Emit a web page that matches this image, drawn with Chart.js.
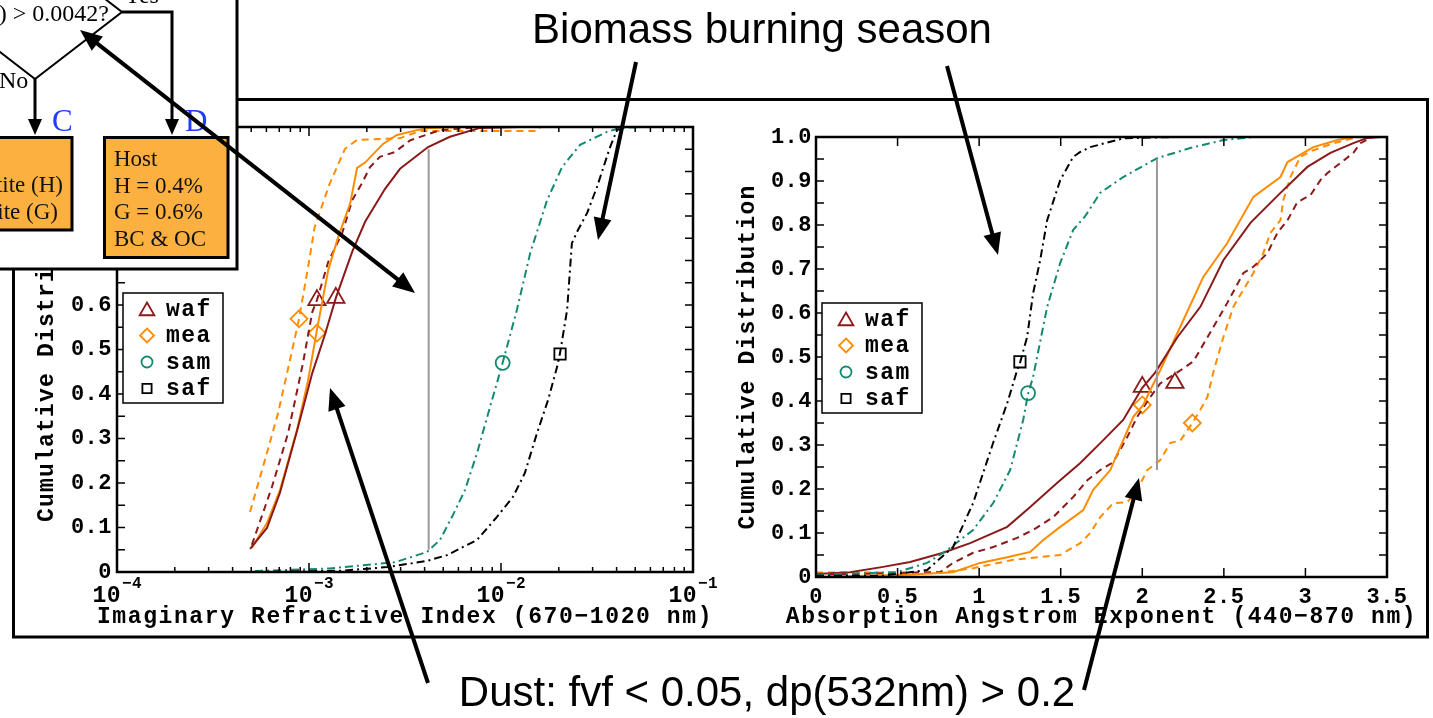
<!DOCTYPE html>
<html>
<head>
<meta charset="utf-8">
<script src="https://cdn.jsdelivr.net/npm/chart.js@4.4.0/dist/chart.umd.min.js"></script>
<style>
html, body { margin:0; padding:0; background:#fff; }
#page { position:relative; width:1433px; height:718px; overflow:hidden; background:#fff; }
#left { position:absolute; left:0; top:0; }
#right { position:absolute; left:720px; top:0; }
#overlay { position:absolute; left:0; top:0; pointer-events:none; }
</style>
</head>
<body>
<div id="page">
<canvas id="left" width="720" height="660"></canvas>
<canvas id="right" width="713" height="660"></canvas>
<canvas id="overlay" width="1433" height="718"></canvas>
</div>
<script>
// ---- data: left panel, imaginary refractive index (log x) ----
const leftWafSolidX = [4.93e-4, 6.04e-4, 7.06e-4, 8.77e-4, 1.04e-3, 1.21e-3, 1.38e-3, 1.68e-3, 1.96e-3, 2.49e-3, 2.98e-3, 4.17e-3, 5.42e-3, 7.78e-3, 1.26e-2, 1e-1];
const leftWafSolidY = [0.052, 0.099, 0.178, 0.326, 0.447, 0.533, 0.616, 0.72, 0.787, 0.861, 0.906, 0.955, 0.978, 0.998, 1.0, 1.0];
const leftWafDashX = [5.04e-4, 6.41e-4, 7.78e-4, 9.31e-4, 1.04e-3, 1.10e-3, 1.26e-3, 1.49e-3, 1.68e-3, 1.89e-3, 2.08e-3, 2.34e-3, 2.81e-3, 3.36e-3, 4.81e-3, 7.78e-3, 1e-1];
const leftWafDashY = [0.061, 0.191, 0.312, 0.47, 0.584, 0.611, 0.697, 0.762, 0.836, 0.874, 0.91, 0.933, 0.944, 0.97, 0.993, 1.0, 1.0];
const leftMeaSolidX = [5.04e-4, 6.04e-4, 7.06e-4, 8.66e-4, 9.89e-4, 1.10e-3, 1.26e-3, 1.42e-3, 1.64e-3, 1.78e-3, 1.96e-3, 2.43e-3, 2.87e-3, 3.65e-3, 4.27e-3, 6.11e-3, 1e-1];
const leftMeaSolidY = [0.054, 0.110, 0.184, 0.319, 0.431, 0.544, 0.679, 0.753, 0.829, 0.908, 0.92, 0.962, 0.982, 0.993, 0.998, 1.0, 1.0];
const leftMeaDashX = [4.93e-4, 5.90e-4, 6.90e-4, 7.96e-4, 8.87e-4, 9.89e-4, 1.07e-3, 1.28e-3, 1.54e-3, 1.78e-3, 2.98e-3, 3.78e-3, 1.54e-2, 1.60e-2, 1e-1];
const leftMeaDashY = [0.135, 0.252, 0.357, 0.476, 0.569, 0.685, 0.775, 0.872, 0.951, 0.971, 0.975, 0.991, 0.991, 1.0, 1.0];
const leftSamX = [5.24e-4, 1.28e-3, 2.81e-3, 4.12e-3, 4.81e-3, 5.56e-3, 6.49e-3, 7.50e-3, 8.77e-3, 1.02e-2, 1.21e-2, 1.42e-2, 1.74e-2, 2.08e-2, 2.58e-2, 3.56e-2, 4.17e-2, 5.30e-2, 1e-1];
const leftSamY = [0.002, 0.008, 0.022, 0.045, 0.072, 0.124, 0.184, 0.267, 0.371, 0.47, 0.589, 0.717, 0.836, 0.91, 0.96, 0.989, 0.998, 1.0, 1.0];
const leftSafX = [5.24e-4, 1.5e-3, 2.55e-3, 4.12e-3, 5.24e-3, 7.50e-3, 9.53e-3, 1.155e-2, 1.33e-2, 1.54e-2, 1.76e-2, 1.96e-2, 2.03e-2, 2.21e-2, 2.34e-2, 2.52e-2, 2.81e-2, 3.16e-2, 3.70e-2, 4.02e-2, 4.53e-2, 1e-1];
const leftSafY = [0.0, 0.003, 0.011, 0.025, 0.038, 0.072, 0.124, 0.169, 0.222, 0.312, 0.387, 0.461, 0.492, 0.589, 0.739, 0.769, 0.807, 0.865, 0.955, 0.993, 1.0, 1.0];
const leftMarkWafX = [1.10e-3, 1.38e-3], leftMarkWafY = [0.611, 0.616];
const leftMarkMeaX = [8.87e-4, 1.10e-3], leftMarkMeaY = [0.569, 0.537];
const leftMarkSamX = [1.02e-2], leftMarkSamY = [0.47];
const leftMarkSafX = [2.03e-2], leftMarkSafY = [0.49];
const leftThreshX = [0.0042, 0.0042], leftThreshY = [0.05, 0.95];

// ---- data: right panel, absorption angstrom exponent ----
const rightWafSolidX = [0, 0.209, 0.411, 0.577, 0.779, 0.945, 1.172, 1.313, 1.479, 1.620, 1.761, 1.883, 2.0, 2.080, 2.215, 2.356, 2.497, 2.663, 2.847, 3.012, 3.153, 3.294, 3.380, 3.46];
const rightWafSolidY = [0.007, 0.011, 0.023, 0.034, 0.055, 0.077, 0.114, 0.159, 0.214, 0.259, 0.311, 0.357, 0.43, 0.465, 0.545, 0.614, 0.72, 0.805, 0.873, 0.932, 0.964, 0.986, 0.998, 1.0];
const rightWafDashX = [0, 0.761, 0.840, 0.963, 1.086, 1.233, 1.331, 1.454, 1.577, 1.663, 1.742, 1.822, 1.908, 1.969, 2.049, 2.110, 2.215, 2.313, 2.436, 2.521, 2.620, 2.681, 2.767, 2.828, 2.890, 2.951, 3.031, 3.092, 3.135, 3.215, 3.294, 3.337, 3.411, 3.5];
const rightWafDashY = [0.005, 0.011, 0.032, 0.055, 0.068, 0.089, 0.107, 0.136, 0.182, 0.22, 0.243, 0.261, 0.318, 0.364, 0.409, 0.44, 0.465, 0.49, 0.568, 0.623, 0.691, 0.705, 0.736, 0.782, 0.811, 0.852, 0.868, 0.902, 0.918, 0.941, 0.964, 0.986, 1.0, 1.0];
const rightMeaSolidX = [0, 0.558, 0.840, 1.006, 1.172, 1.313, 1.393, 1.497, 1.638, 1.699, 1.804, 1.865, 1.945, 2.006, 2.049, 2.110, 2.252, 2.374, 2.521, 2.681, 2.847, 2.890, 3.049, 3.196, 3.294, 3.5];
const rightMeaSolidY = [0, 0.005, 0.011, 0.032, 0.045, 0.057, 0.084, 0.114, 0.152, 0.198, 0.243, 0.295, 0.364, 0.391, 0.425, 0.47, 0.584, 0.682, 0.759, 0.864, 0.909, 0.943, 0.977, 0.993, 1.0, 1.0];
const rightMeaDashX = [0, 0.761, 0.963, 1.209, 1.497, 1.577, 1.620, 1.681, 1.742, 1.822, 1.908, 1.969, 2.031, 2.110, 2.172, 2.233, 2.307, 2.356, 2.399, 2.436, 2.497, 2.558, 2.681, 2.742, 2.785, 2.847, 2.865, 2.908, 2.969, 3.049, 3.172, 3.319, 3.5];
const rightMeaDashY = [0.01, 0.01, 0.02, 0.039, 0.05, 0.068, 0.077, 0.10, 0.136, 0.168, 0.17, 0.198, 0.243, 0.266, 0.305, 0.31, 0.35, 0.38, 0.409, 0.466, 0.545, 0.614, 0.691, 0.736, 0.782, 0.811, 0.857, 0.909, 0.955, 0.97, 0.986, 1.0, 1.0];
const rightSamX = [0, 0.497, 0.681, 0.804, 0.963, 1.086, 1.190, 1.270, 1.301, 1.331, 1.417, 1.497, 1.577, 1.650, 1.742, 1.883, 2.092, 2.294, 2.497, 2.681, 3.5];
const rightSamY = [0.005, 0.011, 0.032, 0.061, 0.107, 0.168, 0.243, 0.357, 0.418, 0.455, 0.614, 0.714, 0.789, 0.82, 0.873, 0.909, 0.952, 0.975, 0.993, 1.0, 1.0];
const rightSafX = [0, 0.411, 0.681, 0.840, 0.963, 1.086, 1.172, 1.233, 1.252, 1.294, 1.331, 1.374, 1.417, 1.497, 1.577, 1.62, 1.681, 1.883, 2.2, 3.5];
const rightSafY = [0.003, 0.003, 0.016, 0.068, 0.168, 0.305, 0.395, 0.47, 0.489, 0.545, 0.645, 0.72, 0.811, 0.902, 0.955, 0.966, 0.977, 0.997, 1.0, 1.0];
const rightMarkWafX = [2.0, 2.2], rightMarkWafY = [0.432, 0.441];
const rightMarkMeaX = [2.0, 2.307], rightMarkMeaY = [0.391, 0.35];
const rightMarkSamX = [1.30], rightMarkSamY = [0.418];
const rightMarkSafX = [1.25], rightMarkSafY = [0.489];
const rightThreshX = [2.09, 2.09], rightThreshY = [0.243, 0.95];

// ---- labels / ticks ----
const regions = ['waf', 'mea', 'sam', 'saf'];
const regionColors = ['#8b1a1a', '#ff8c00', '#138a70', '#000000'];
const regionMarkers = ['triangle', 'rectRot', 'circle', 'rect'];
const markerRadius = [10, 8.5, 7, 8];
const yTickMarks = [0, 0.05, 0.1, 0.15, 0.2, 0.25, 0.3, 0.35, 0.4, 0.45, 0.5, 0.55, 0.6, 0.65, 0.7, 0.75, 0.8, 0.85, 0.9, 0.95, 1.0];
const logDecades = [-4, -3, -2, -1];
const rightXTicks = [0, 0.5, 1, 1.5, 2, 2.5, 3, 3.5];
const yTitle = 'Cumulative Distribution';
const leftXTitle = 'Imaginary Refractive Index (670\u22121020 nm)';
const rightXTitle = 'Absorption Angstrom Exponent (440\u2212870 nm)';

const MONO = '"Liberation Mono", "Courier New", monospace';
const SERIF = '"Liberation Serif", "Times New Roman", serif';
const SANS = '"Liberation Sans", Arial, sans-serif';
const DASH = [7, 5];
const DASHDOT = [8, 4, 2, 4];

const pts = (xs, ys) => xs.map((x, i) => ({x: x, y: ys[i]}));

function curve(xs, ys, color, dash) {
  return {data: pts(xs, ys), showLine: true, borderColor: color, borderWidth: 2,
          borderDash: dash || [], pointRadius: 0, fill: false, tension: 0};
}
function marks(xs, ys, i) {
  return {data: pts(xs, ys), showLine: false, pointStyle: regionMarkers[i], pointRadius: markerRadius[i],
          pointBorderColor: regionColors[i], pointBackgroundColor: 'rgba(0,0,0,0)', pointBorderWidth: 1.8};
}

function markerPath(ctx, style, x, y, r) {
  ctx.beginPath();
  if (style === 'triangle') {
    ctx.moveTo(x, y - r); ctx.lineTo(x + 0.866 * r, y + 0.5 * r); ctx.lineTo(x - 0.866 * r, y + 0.5 * r); ctx.closePath();
  } else if (style === 'rectRot') {
    ctx.moveTo(x, y - r); ctx.lineTo(x + r, y); ctx.lineTo(x, y + r); ctx.lineTo(x - r, y); ctx.closePath();
  } else if (style === 'circle') {
    ctx.arc(x, y, r, 0, Math.PI * 2);
  } else {
    const s = r * Math.SQRT1_2; ctx.rect(x - s, y - s, 2 * s, 2 * s);
  }
}

// axes box, inward ticks, titles, legend
function decor(cfg) {
  return {
    id: 'decor',
    beforeDraw(chart) { chart.ctx.letterSpacing = '0.5px'; },
    afterDraw(chart) {
      const ctx = chart.ctx, a = chart.chartArea, x = chart.scales.x, y = chart.scales.y;
      ctx.save();
      ctx.strokeStyle = '#000';
      ctx.lineWidth = 1.5;
      ctx.beginPath();
      cfg.xMajor.forEach(v => {
        const p = x.getPixelForValue(v);
        ctx.moveTo(p, a.bottom); ctx.lineTo(p, a.bottom - 9);
        ctx.moveTo(p, a.top); ctx.lineTo(p, a.top + 9);
      });
      cfg.xMinor.forEach(v => {
        const p = x.getPixelForValue(v);
        ctx.moveTo(p, a.bottom); ctx.lineTo(p, a.bottom - 5);
        ctx.moveTo(p, a.top); ctx.lineTo(p, a.top + 5);
      });
      yTickMarks.forEach(v => {
        const p = y.getPixelForValue(v);
        ctx.moveTo(a.left, p); ctx.lineTo(a.left + 8, p);
        ctx.moveTo(a.right, p); ctx.lineTo(a.right - 8, p);
      });
      ctx.stroke();
      ctx.lineWidth = 2.5;
      ctx.strokeRect(a.left, a.top, a.right - a.left, a.bottom - a.top);

      ctx.fillStyle = '#000';
      if (cfg.log) {
        logDecades.forEach(n => {
          const p = x.getPixelForValue(Math.pow(10, n));
          ctx.letterSpacing = '0.5px';
          ctx.font = 'bold 23px ' + MONO;
          ctx.textAlign = 'right';
          ctx.fillText('10', p + 4, a.bottom + 30);
          ctx.font = 'bold 16px ' + MONO;
          ctx.textAlign = 'left';
          ctx.fillText('\u2212' + Math.abs(n), p + 5, a.bottom + 16);
        });
      }

      ctx.font = 'bold 23px ' + MONO;
      ctx.letterSpacing = '1.6px';
      ctx.textAlign = 'center';
      ctx.textBaseline = 'alphabetic';
      ctx.fillText(cfg.xTitle, (a.left + a.right) / 2, 623);
      ctx.save();
      ctx.translate(a.left - cfg.yTitleOff, (a.top + a.bottom) / 2);
      ctx.rotate(-Math.PI / 2);
      ctx.textBaseline = 'middle';
      ctx.letterSpacing = '1.2px';
      ctx.fillText(yTitle, 0, 0);
      ctx.restore();

      // legend
      const bx = a.left + 6, by = a.top + 166;
      ctx.fillStyle = '#fff';
      ctx.fillRect(bx, by, 100, 110);
      ctx.lineWidth = 1.5;
      ctx.strokeStyle = '#000';
      ctx.strokeRect(bx, by, 100, 110);
      ctx.font = 'bold 23px ' + MONO;
      ctx.letterSpacing = '1.5px';
      ctx.textAlign = 'left';
      ctx.textBaseline = 'middle';
      regions.forEach((name, i) => {
        const ly = by + 16 + i * 26.5;
        ctx.strokeStyle = regionColors[i];
        ctx.lineWidth = 1.8;
        markerPath(ctx, regionMarkers[i], bx + 24, ly + (i === 0 ? 2 : 0), markerRadius[i] - 1.5);
        ctx.stroke();
        ctx.fillStyle = '#000';
        ctx.fillText(name, bx + 43, ly + 1);
      });
      ctx.restore();
    }
  };
}

function yScale(width, pad) {
  return {
    type: 'linear', min: 0, max: 1,
    grid: {display: false, drawTicks: false}, border: {display: false},
    ticks: {stepSize: 0.1, padding: pad, color: '#000', autoSkip: false,
            font: {family: MONO, weight: 'bold', size: 22},
            callback: v => Math.abs(v) < 1e-9 ? '0' : Number(v).toFixed(1)},
    afterFit: s => { s.width = width; s.paddingTop = 0; s.paddingBottom = 0; s.paddingLeft = 0; s.paddingRight = 0; }
  };
}

const minorLog = [];
logDecades.slice(0, 3).forEach(n => { for (let k = 2; k <= 9; k++) minorLog.push(k * Math.pow(10, n)); });

// left chart
new Chart(document.getElementById('left'), {
  type: 'scatter',
  data: {datasets: [
    curve(leftThreshX, leftThreshY, '#999999'),
    curve(leftSafX, leftSafY, regionColors[3], DASHDOT),
    curve(leftSamX, leftSamY, regionColors[2], DASHDOT),
    curve(leftWafSolidX, leftWafSolidY, regionColors[0]),
    curve(leftMeaSolidX, leftMeaSolidY, regionColors[1]),
    curve(leftWafDashX, leftWafDashY, regionColors[0], DASH),
    curve(leftMeaDashX, leftMeaDashY, regionColors[1], DASH),
    marks(leftMarkWafX, leftMarkWafY, 0),
    marks(leftMarkMeaX, leftMarkMeaY, 1),
    marks(leftMarkSamX, leftMarkSamY, 2),
    marks(leftMarkSafX, leftMarkSafY, 3)
  ]},
  options: {
    responsive: false, animation: false,
    layout: {padding: {left: 0, top: 127, right: 27, bottom: 48}, autoPadding: false},
    plugins: {legend: {display: false}, tooltip: {enabled: false}},
    scales: {
      x: {type: 'logarithmic', min: 1e-4, max: 1e-1,
          grid: {display: false, drawTicks: false}, border: {display: false}, ticks: {display: false},
          afterFit: s => { s.height = 40; s.paddingLeft = 0; s.paddingRight = 0; }},
      y: yScale(117, 5)
    }
  },
  plugins: [decor({log: true, xMajor: logDecades.map(n => Math.pow(10, n)), xMinor: minorLog, xTitle: leftXTitle, yTitleOff: 70})]
});

// right chart
new Chart(document.getElementById('right'), {
  type: 'scatter',
  data: {datasets: [
    curve(rightThreshX, rightThreshY, '#999999'),
    curve(rightSafX, rightSafY, regionColors[3], DASHDOT),
    curve(rightSamX, rightSamY, regionColors[2], DASHDOT),
    curve(rightWafSolidX, rightWafSolidY, regionColors[0]),
    curve(rightMeaSolidX, rightMeaSolidY, regionColors[1]),
    curve(rightWafDashX, rightWafDashY, regionColors[0], DASH),
    curve(rightMeaDashX, rightMeaDashY, regionColors[1], DASH),
    marks(rightMarkWafX, rightMarkWafY, 0),
    marks(rightMarkMeaX, rightMarkMeaY, 1),
    marks(rightMarkSamX, rightMarkSamY, 2),
    marks(rightMarkSafX, rightMarkSafY, 3)
  ]},
  options: {
    responsive: false, animation: false,
    layout: {padding: {left: 0, top: 137, right: 46, bottom: 43}, autoPadding: false},
    plugins: {legend: {display: false}, tooltip: {enabled: false}},
    scales: {
      x: {type: 'linear', min: 0, max: 3.5,
          grid: {display: false, drawTicks: false}, border: {display: false},
          ticks: {stepSize: 0.5, padding: 7, color: '#000', autoSkip: false, maxRotation: 0,
                  font: {family: MONO, weight: 'bold', size: 22},
                  callback: v => String(Number(Number(v).toFixed(1)))},
          afterFit: s => { s.height = 40; s.paddingLeft = 0; s.paddingRight = 0; }},
      y: yScale(96, 4)
    }
  },
  plugins: [decor({log: false, xMajor: rightXTicks, xMinor: [], xTitle: rightXTitle, yTitleOff: 68})]
});

// ---- overlay: frame, flowchart inset, annotations ----
const ov = document.getElementById('overlay').getContext('2d');
const ORANGE = '#fbb040';
const BLUE = '#1f3cff';

function head(x, y, ang, len, half) {
  ov.beginPath();
  ov.moveTo(x, y);
  ov.lineTo(x - len * Math.cos(ang) + half * Math.sin(ang), y - len * Math.sin(ang) - half * Math.cos(ang));
  ov.lineTo(x - len * Math.cos(ang) - half * Math.sin(ang), y - len * Math.sin(ang) + half * Math.cos(ang));
  ov.closePath();
  ov.fill();
}
function arrow(x1, y1, x2, y2, both, lw, len, half) {
  lw = lw || 4; len = len || 22; half = half || 9;
  const ang = Math.atan2(y2 - y1, x2 - x1);
  const sx = both ? x1 + (len - 4) * Math.cos(ang) : x1, sy = both ? y1 + (len - 4) * Math.sin(ang) : y1;
  ov.lineWidth = lw;
  ov.strokeStyle = '#000'; ov.fillStyle = '#000';
  ov.beginPath();
  ov.moveTo(sx, sy);
  ov.lineTo(x2 - (len - 4) * Math.cos(ang), y2 - (len - 4) * Math.sin(ang));
  ov.stroke();
  head(x2, y2, ang, len, half);
  if (both) head(x1, y1, ang + Math.PI, len, half);
}

// outer frame
ov.strokeStyle = '#000';
ov.lineWidth = 3;
ov.strokeRect(13.5, 99.5, 1414, 537.5);

// inset
ov.fillStyle = '#fff';
ov.fillRect(0, 0, 238, 270);
ov.lineWidth = 3;
ov.beginPath(); ov.moveTo(237, 0); ov.lineTo(237, 269); ov.lineTo(0, 269); ov.stroke();

ov.lineWidth = 2;
ov.beginPath();
ov.moveTo(35, -55); ov.lineTo(122, 12); ov.lineTo(35, 79); ov.lineTo(-52, 12); ov.closePath();
ov.stroke();
ov.fillStyle = '#000';
ov.font = '24px ' + SERIF;
ov.textAlign = 'right';
ov.fillText('(k) > 0.0042?', 109, 21);
ov.textAlign = 'left';
ov.fillText('Yes', 124, 3);
ov.fillText('No', -1, 88);

ov.lineWidth = 3;
ov.beginPath(); ov.moveTo(122, 12); ov.lineTo(172, 12); ov.lineTo(172, 124); ov.stroke();
head(172, 135, Math.PI / 2, 16, 7);
ov.beginPath(); ov.moveTo(35, 79); ov.lineTo(35, 124); ov.stroke();
head(35, 135, Math.PI / 2, 16, 7);

ov.fillStyle = BLUE;
ov.font = '31px ' + SERIF;
ov.fillText('C', 52, 131);
ov.fillText('D', 185, 131);

ov.fillStyle = ORANGE;
ov.fillRect(-5, 137, 77, 93);
ov.fillRect(104, 137, 124, 120);
ov.lineWidth = 3;
ov.strokeRect(-5, 137.5, 77, 92.5);
ov.strokeRect(104.5, 137.5, 123.5, 120);
ov.fillStyle = '#111';
ov.font = '23px ' + SERIF;
ov.textAlign = 'right';
ov.fillText('Hematite (H)', 63, 192);
ov.fillText('Goethite (G)', 58, 219);
ov.textAlign = 'left';
['Host', 'H = 0.4%', 'G = 0.6%', 'BC & OC'].forEach((t, i) => ov.fillText(t, 114, 166 + i * 26.5));

// annotation texts
ov.fillStyle = '#000';
ov.font = '42px ' + SANS;
ov.textAlign = 'center';
ov.fillText('Biomass burning season', 762, 43);
ov.fillText('Dust: fvf < 0.05, dp(532nm) > 0.2', 767, 706);

// arrows
arrow(80, 30, 415, 293, true);
arrow(636, 62, 598, 240);
arrow(947, 66, 998, 255);
arrow(428, 683, 330, 388);
arrow(1084, 690, 1139, 478);
</script>
</body>
</html>
